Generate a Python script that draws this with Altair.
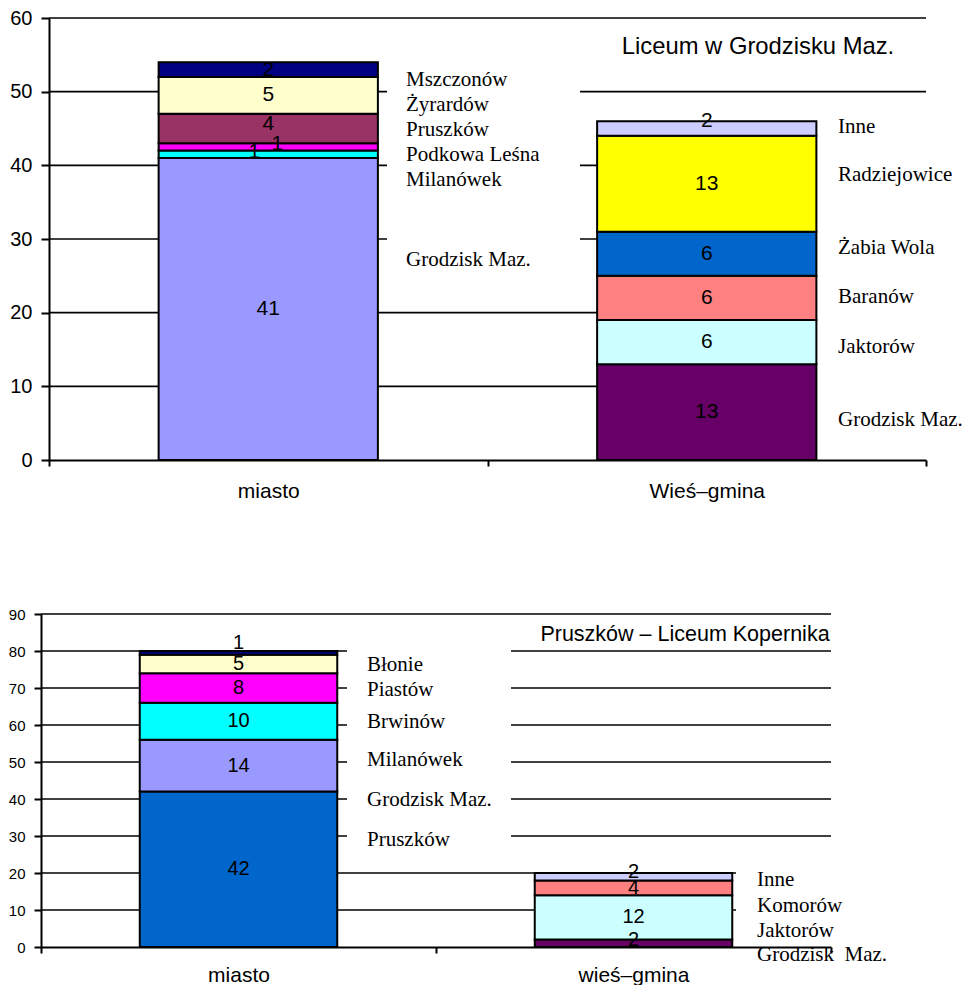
import json
import altair as alt
import pandas as pd

# ---------------- data: top chart ----------------
top_title = "Liceum w Grodzisku Maz."
top_categories = ["miasto", "Wieś–gmina"]
top_miasto_places = ["Grodzisk Maz.", "Milanówek", "Podkowa Leśna", "Pruszków", "Żyrardów", "Mszczonów"]
top_miasto_values = [41, 1, 1, 4, 5, 2]
top_wies_places = ["Grodzisk Maz.", "Jaktorów", "Baranów", "Żabia Wola", "Radziejowice", "Inne"]
top_wies_values = [13, 6, 6, 6, 13, 2]

# ---------------- data: bottom chart ----------------
bot_title = "Pruszków – Liceum Kopernika"
bot_categories = ["miasto", "wieś–gmina"]
bot_miasto_places = ["Pruszków", "Grodzisk Maz.", "Milanówek", "Brwinów", "Piastów", "Błonie"]
bot_miasto_values = [42, 14, 10, 8, 5, 1]
bot_wies_places = ["Grodzisk\u00a0 Maz.", "Jaktorów", "Komorów", "Inne"]
bot_wies_values = [2, 12, 4, 2]

# ---------------- styles ----------------
top_miasto_colors = ["#9999FF", "#00FFFF", "#FF00FF", "#993366", "#FFFFCC", "#000080"]
top_wies_colors = ["#660066", "#CCFFFF", "#FF8080", "#0066CC", "#FFFF00", "#CCCCFF"]
bot_miasto_colors = ["#0066CC", "#9999FF", "#00FFFF", "#FF00FF", "#FFFFCC", "#000080"]
bot_wies_colors = ["#660066", "#CCFFFF", "#FF8080", "#CCCCFF"]

SANS = "Liberation Sans"
SERIF = "Liberation Serif"

# ---------------- layout (label anchors, in data units / pixels) ----------------
top_left_label_y = [51.6, 48.2, 44.8, 41.4, 38.0, 27.1]
top_right_label_y = [45.2, 38.7, 28.8, 22.1, 15.3, 5.4]
bot_left_label_y = [76.2, 69.5, 60.8, 50.5, 39.7, 28.9]
bot_right_label_y = [18.1, 11.1, 4.3, -2.2]


def segments(prefix, categories, places_list, values_list):
    rows = []
    for cat, places, vals in zip(categories, places_list, values_list):
        for i, (p, v) in enumerate(zip(places, vals)):
            rows.append({"cat": cat, "place": p, "value": v, "idx": i,
                         "key": f"{prefix}|{cat}|{i}"})
    return pd.DataFrame(rows)


def panel(df, colors, categories, ymax, width, height, xstart, yoffset, ytick,
          ylabel_size, value_size, xlabel_pad, nudges, label_groups, masks,
          title, title_x, title_y, title_size):
    xscale = alt.Scale(domain=categories, range=[xstart, width], paddingInner=0, paddingOuter=0)
    yscale = alt.Scale(domain=[0, ymax], nice=False, zero=True)
    xaxis = alt.Axis(title=None, labelAngle=0, labelFont=SANS, labelFontSize=21,
                     labelColor="black", labelPadding=xlabel_pad, tickBand="extent", tickSize=6,
                     tickWidth=2, tickColor="black", domainColor="black", domainWidth=2,
                     grid=False)
    yaxis = alt.Axis(title=None, values=list(range(0, ymax + 1, 10)), labelFont=SANS,
                     labelFontSize=ylabel_size, labelColor="black", labelPadding=9,
                     tickSize=ytick, tickWidth=2, tickColor="black", domainColor="black",
                     domainWidth=2, grid=False, offset=yoffset)

    def Y(field):
        return alt.Y(field, scale=yscale, axis=yaxis)

    def X():
        return alt.X("cat:N", scale=xscale, axis=xaxis, sort=categories)

    layers = []
    grid = alt.Chart(pd.DataFrame({"v": list(range(10, ymax + 1, 10))})).mark_rule(
        color="black", strokeWidth=1.6
    ).encode(y=Y("v:Q"), x=alt.value(xstart), x2=alt.value(width))
    layers.append(grid)

    for (mx0, mx1, my0, my1) in masks:
        layers.append(
            alt.Chart(pd.DataFrame({"a": [my0], "b": [my1]})).mark_rect(color="white").encode(
                x=alt.value(mx0), x2=alt.value(mx1), y=Y("a:Q"), y2="b:Q"
            )
        )

    keys = list(df["key"])
    base = alt.Chart(df).transform_stack(
        stack="value", as_=["y0", "y1"], groupby=["cat"],
        sort=[alt.SortField("idx", order="ascending")]
    ).transform_calculate(mid="(datum.y0 + datum.y1) / 2")

    bars = base.mark_bar(width=alt.RelativeBandSize(0.5), stroke="black", strokeWidth=2).encode(
        x=X(), y=Y("y0:Q"), y2="y1:Q",
        color=alt.Color("key:N", scale=alt.Scale(domain=keys, range=colors), legend=None),
    )
    layers.append(bars)

    nudged = list(nudges.keys())
    plain = base.transform_filter(f"indexof({json.dumps(nudged)}, datum.key) < 0").mark_text(
        font=SANS, fontSize=value_size, color="black", baseline="middle", align="center"
    ).encode(x=X(), y=Y("mid:Q"), text="value:Q")
    layers.append(plain)
    for k, (dx, dy) in nudges.items():
        layers.append(
            base.transform_filter(alt.FieldEqualPredicate(field="key", equal=k)).mark_text(
                font=SANS, fontSize=value_size, color="black", baseline="middle",
                align="center", dx=dx, dy=dy
            ).encode(x=X(), y=Y("mid:Q"), text="value:Q")
        )

    for (texts, ys, px) in label_groups:
        layers.append(
            alt.Chart(pd.DataFrame({"t": texts, "ly": ys})).mark_text(
                font=SERIF, fontSize=21, color="black", align="left", baseline="middle"
            ).encode(x=alt.value(px), y=Y("ly:Q"), text="t:N")
        )

    layers.append(
        alt.Chart(pd.DataFrame({"t": [title], "ty": [title_y]})).mark_text(
            font=SANS, fontSize=title_size, color="black", align="center", baseline="middle"
        ).encode(x=alt.value(title_x), y=Y("ty:Q"), text="t:N")
    )

    return alt.layer(*layers).properties(width=width, height=height)


top_df = segments("A", top_categories, [top_miasto_places, top_wies_places],
                  [top_miasto_values, top_wies_values])
bot_df = segments("B", bot_categories, [bot_miasto_places, bot_wies_places],
                  [bot_miasto_values, bot_wies_values])

top_chart = panel(
    top_df, top_miasto_colors + top_wies_colors, top_categories,
    ymax=60, width=885, height=442, xstart=8, yoffset=-8, ytick=8,
    ylabel_size=20, value_size=21, xlabel_pad=14,
    nudges={"A|miasto|1": (-14, -2), "A|miasto|2": (9, -3), "A|miasto|3": (0, -5),
            "A|Wieś–gmina|5": (0, -8)},
    label_groups=[
        (top_miasto_places[::-1], top_left_label_y, 365),
        (top_wies_places[::-1], top_right_label_y, 797),
    ],
    masks=[(346, 539, 24, 56), (776, 900, 3, 47)],
    title=top_title, title_x=717, title_y=56.1, title_size=23.8,
)

bot_chart = panel(
    bot_df, bot_miasto_colors + bot_wies_colors, bot_categories,
    ymax=90, width=790, height=333, xstart=0, yoffset=0, ytick=7,
    ylabel_size=15, value_size=20, xlabel_pad=11,
    nudges={"B|miasto|5": (0, -10), "B|wieś–gmina|3": (0, -5), "B|wieś–gmina|0": (0, -3)},
    label_groups=[
        (bot_miasto_places[::-1], bot_left_label_y, 326),
        (bot_wies_places[::-1], bot_right_label_y, 716),
    ],
    masks=[(306, 470, 22, 86), (695, 800, 3, 22)],
    title=bot_title, title_x=644, title_y=84.3, title_size=21.5,
)

chart = alt.vconcat(top_chart, bot_chart, spacing=106).resolve_scale(
    color="independent"
).properties(
    padding={"left": 0, "top": 0, "right": 0, "bottom": 0}
).configure_view(stroke=None)

chart.save("out.html", embed_options={"renderer": "svg", "actions": False})
